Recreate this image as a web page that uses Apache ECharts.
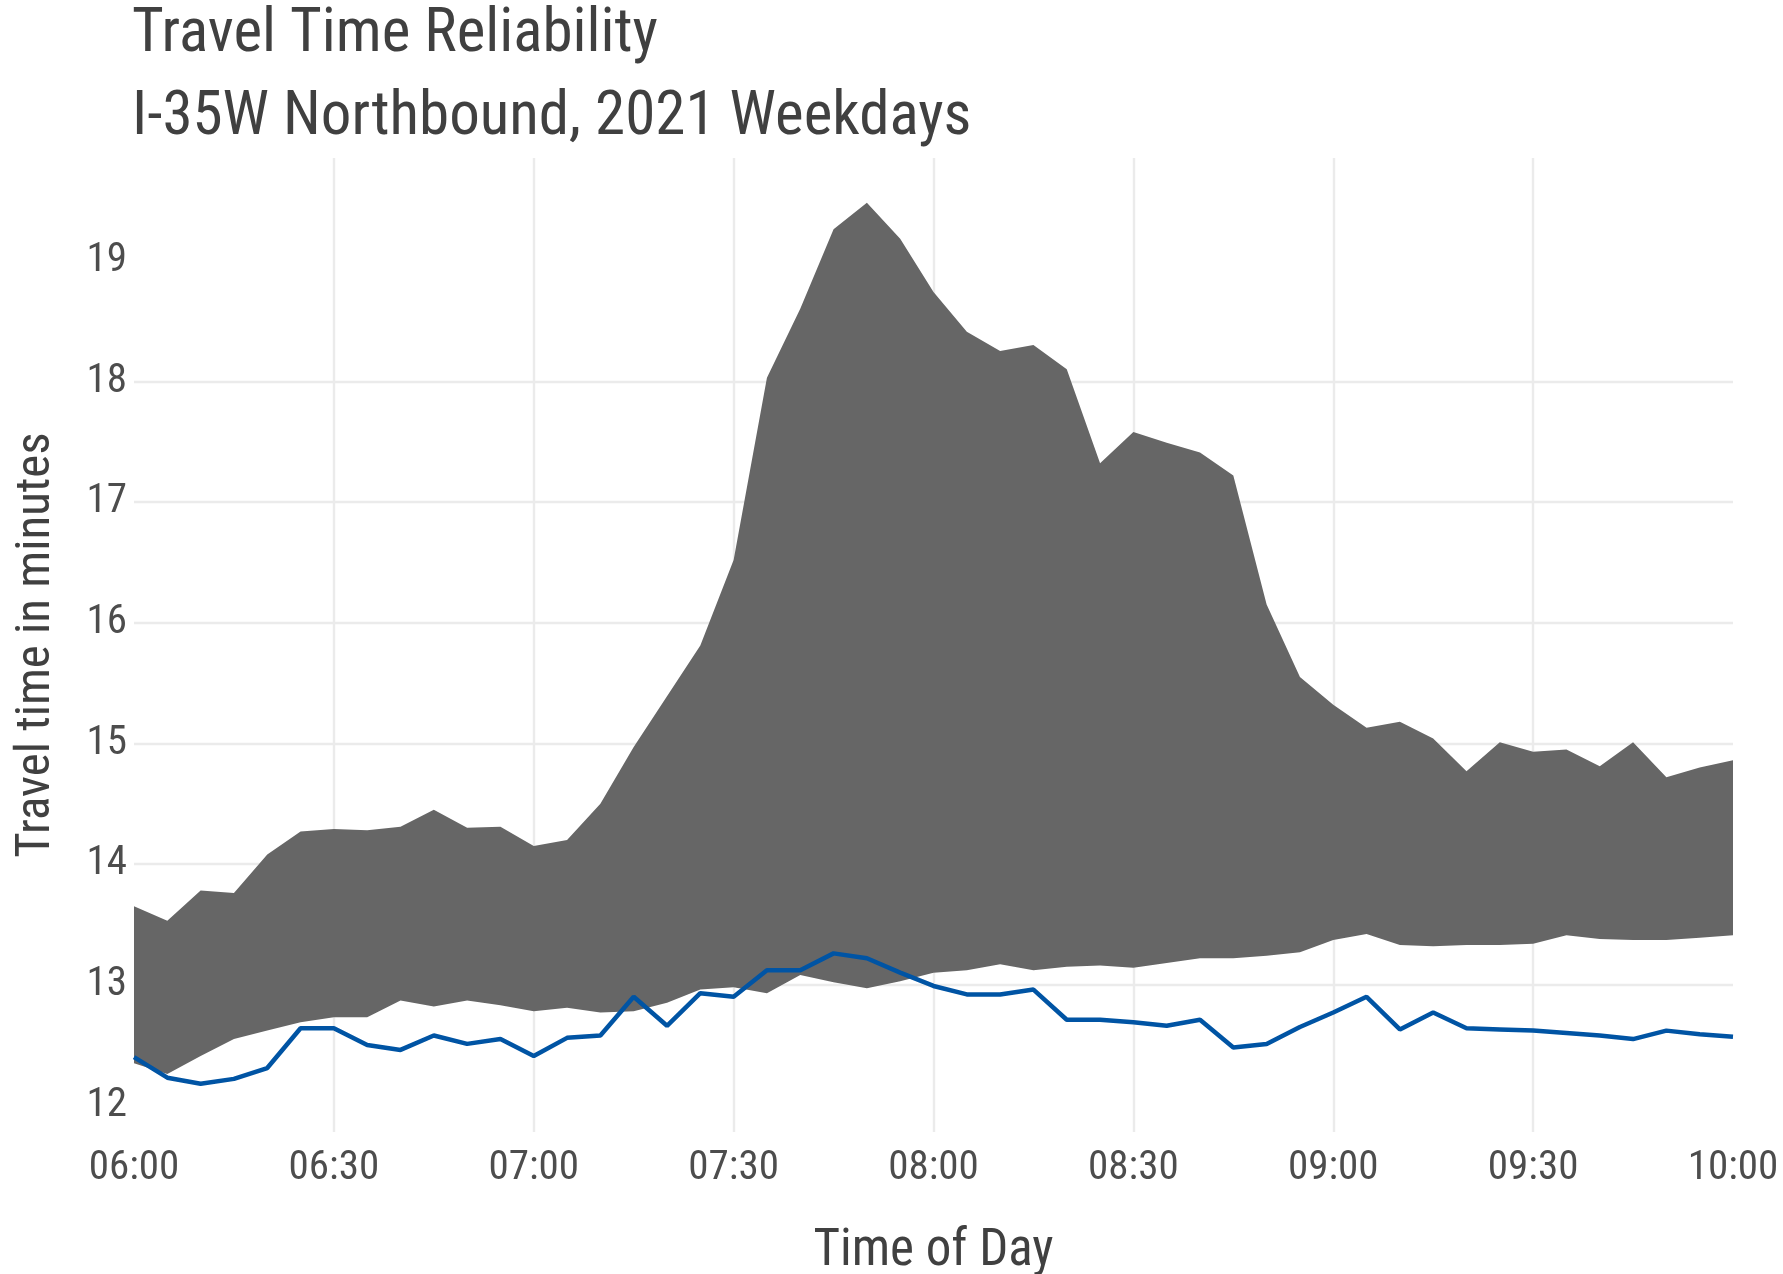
<!DOCTYPE html>
<html>
<head>
<meta charset="utf-8">
<title>Travel Time Reliability</title>
<script src="https://cdn.jsdelivr.net/npm/echarts@6/dist/echarts.min.js"></script>
<style>
  html, body { margin: 0; padding: 0; background: #fff; }
  #chart { width: 1783px; height: 1274px; }
</style>
</head>
<body>
<div id="chart"></div>
<script>
// 5-minute bins, 06:00 - 10:00
const times = [
  '06:00', '06:05', '06:10', '06:15', '06:20', '06:25', '06:30', '06:35', '06:40', '06:45', '06:50', '06:55',
  '07:00', '07:05', '07:10', '07:15', '07:20', '07:25', '07:30', '07:35', '07:40', '07:45', '07:50', '07:55',
  '08:00', '08:05', '08:10', '08:15', '08:20', '08:25', '08:30', '08:35', '08:40', '08:45', '08:50', '08:55',
  '09:00', '09:05', '09:10', '09:15', '09:20', '09:25', '09:30', '09:35', '09:40', '09:45', '09:50', '09:55',
  '10:00'
]

// ribbon top
const upperTime = [
  13.65, 13.53, 13.78, 13.76, 14.08, 14.27, 14.29, 14.28, 14.31, 14.45, 14.30, 14.31, 14.15,
  14.20, 14.50, 14.97, 15.39, 15.81, 16.52, 18.03, 18.60, 19.26, 19.48, 19.18, 18.74,
  18.41, 18.25, 18.30, 18.10, 17.32, 17.58, 17.49, 17.41, 17.22, 16.15, 15.55, 15.32,
  15.13, 15.18, 15.04, 14.77, 15.01, 14.93, 14.95, 14.81, 15.01, 14.72, 14.80, 14.86
]

// ribbon bottom
const lowerTime = [
  12.35, 12.26, 12.41, 12.55, 12.62, 12.69, 12.73, 12.73, 12.87, 12.82, 12.87, 12.83, 12.78,
  12.81, 12.77, 12.78, 12.85, 12.96, 12.98, 12.93, 13.08, 13.02, 12.97, 13.03, 13.10,
  13.12, 13.17, 13.12, 13.15, 13.16, 13.14, 13.18, 13.22, 13.22, 13.24, 13.27, 13.37,
  13.42, 13.33, 13.32, 13.33, 13.33, 13.34, 13.41, 13.38, 13.37, 13.37, 13.39, 13.41
]

// blue line
const typicalTime = [
  12.40, 12.23, 12.18, 12.22, 12.31, 12.64, 12.64, 12.50, 12.46, 12.58, 12.51, 12.55, 12.41,
  12.56, 12.58, 12.90, 12.66, 12.93, 12.90, 13.12, 13.12, 13.26, 13.22, 13.10, 12.99,
  12.92, 12.92, 12.96, 12.71, 12.71, 12.69, 12.66, 12.71, 12.48, 12.51, 12.65, 12.77,
  12.90, 12.63, 12.77, 12.64, 12.63, 12.62, 12.60, 12.58, 12.55, 12.62, 12.59, 12.57
]

const yTicks = [12, 13, 14, 15, 16, 17, 18, 19]

const fontFamily = "'Liberation Sans Narrow', 'Arial Narrow', 'Roboto Condensed', 'Liberation Sans', sans-serif"
const gridColor = '#ebebeb'
const labelColor = '#4d4d4d'
const titleColor = '#404040'

const chart = echarts.init(document.getElementById('chart'))

chart.setOption({
  animation: false,
  textStyle: { fontFamily },
  title: [
    {
      text: 'Travel Time Reliability',
      left: 132,
      top: 5,
      padding: 0,
      textStyle: { fontFamily, fontSize: 61, lineHeight: 61, fontWeight: 'normal', color: titleColor }
    },
    {
      text: 'I-35W Northbound, 2021 Weekdays',
      left: 132,
      top: 88,
      padding: 0,
      textStyle: { fontFamily, fontSize: 61, lineHeight: 61, fontWeight: 'normal', color: titleColor }
    }
  ],
  grid: { left: 134, right: 50, top: 158, bottom: 142, outerBoundsMode: 'none' },
  xAxis: {
    type: 'category',
    data: times,
    boundaryGap: false,
    name: 'Time of Day',
    nameLocation: 'middle',
    nameGap: 95,
    nameTextStyle: { fontFamily, fontSize: 51, lineHeight: 51, color: titleColor },
    axisLine: { show: false },
    axisTick: { show: false },
    axisLabel: { interval: 5, margin: 16, fontSize: 41, lineHeight: 41, color: labelColor, fontFamily },
    splitLine: {
      show: true,
      interval: 5,
      showMinLine: false,
      showMaxLine: false,
      lineStyle: { color: gridColor, width: 2.4 }
    }
  },
  yAxis: {
    type: 'value',
    min: 11.78,
    max: 19.85,
    name: 'Travel time in minutes',
    nameLocation: 'middle',
    nameRotate: 90,
    nameGap: 73,
    nameTextStyle: { fontFamily, fontSize: 49, lineHeight: 49, color: titleColor },
    axisLine: { show: false },
    axisTick: { show: false, customValues: yTicks },
    axisLabel: { customValues: yTicks, margin: 7, fontSize: 41, lineHeight: 41, color: labelColor, fontFamily },
    splitLine: {
      show: true,
      showMinLine: false,
      showMaxLine: false,
      lineStyle: { color: gridColor, width: 2.4 }
    }
  },
  series: [
    {
      name: 'lower',
      type: 'line',
      stack: 'band',
      data: lowerTime,
      showSymbol: false,
      silent: true,
      z: 1,
      lineStyle: { width: 0, opacity: 0 }
    },
    {
      name: 'range',
      type: 'line',
      stack: 'band',
      data: upperTime.map((v, i) => +(v - lowerTime[i]).toFixed(3)),
      showSymbol: false,
      silent: true,
      z: 2,
      lineStyle: { width: 0, opacity: 0 },
      areaStyle: { color: '#666666', opacity: 1 }
    },
    {
      name: 'typical',
      type: 'line',
      data: typicalTime,
      showSymbol: false,
      z: 3,
      lineStyle: { color: '#0054a4', width: 4.5 }
    }
  ]
})

window.addEventListener('resize', () => chart.resize())
</script>
</body>
</html>
